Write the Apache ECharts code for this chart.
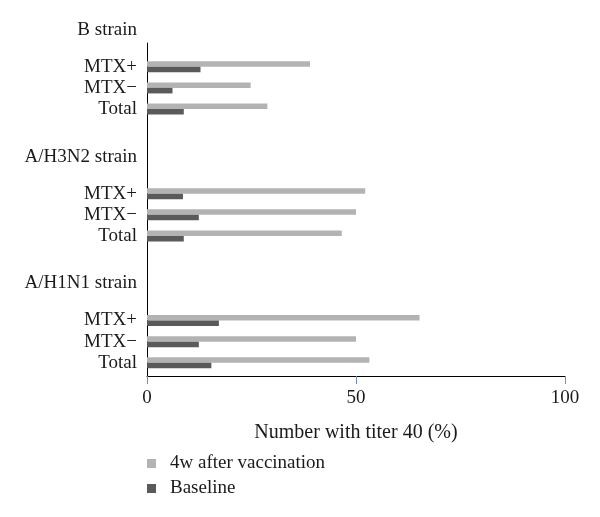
<!DOCTYPE html>
<html>
<head>
<meta charset="utf-8">
<script src="https://cdn.jsdelivr.net/npm/echarts@6/dist/echarts.min.js"></script>
<style>html,body{margin:0;padding:0;background:#fff}#c{width:600px;height:517px}</style>
</head>
<body>
<div id="c"></div>
<script>
// ---- data ----
const strains = ['B strain', 'A/H3N2 strain', 'A/H1N1 strain'];
const groups = ['MTX+', 'MTX\u2212', 'Total'];
const after4w = [39.0, 24.8, 28.8, 52.2, 50.0, 46.6, 65.2, 50.0, 53.2];
const baseline = [12.8, 6.1, 8.8, 8.6, 12.4, 8.8, 17.2, 12.4, 15.4];
const xTicks = [0, 50, 100];
const seriesNames = ['4w after vaccination', 'Baseline'];
const xTitle = 'Number with titer 40 (%)';

// ---- layout of category slots (fine slots; headers sit between groups) ----
const SLOTS = 63, GROUP_STEP = 24, ROW_STEP = 4, FIRST_ROW = 4, HEADER_OFFSET = -7;
const labels = new Array(SLOTS).fill('');
const cats = [];
for (let i = 0; i < SLOTS; i++) cats.push('s' + i);
const d1 = new Array(SLOTS).fill(null);
const d2 = new Array(SLOTS).fill(null);
strains.forEach((s, si) => {
  const base = si * GROUP_STEP + FIRST_ROW;
  const h = base + HEADER_OFFSET;
  if (h >= 0) labels[h] = s;
  groups.forEach((g, gi) => {
    const idx = base + gi * ROW_STEP;
    labels[idx] = g;
    d1[idx] = after4w[si * groups.length + gi];
    d2[idx] = baseline[si * groups.length + gi];
  });
});

const FONT = 'Liberation Serif';
const FS = 19;
const TXT = '#1a1a1a';
const chart = echarts.init(document.getElementById('c'), null, {renderer: 'canvas'});
chart.setOption({
  animation: false,
  backgroundColor: '#fff',
  grid: {left: 147, right: 35, top: 43, bottom: 141, containLabel: false},
  legend: {
    orient: 'vertical', left: 142, top: 449,
    icon: 'rect', itemWidth: 9, itemHeight: 9, itemGap: 6,
    data: seriesNames,
    textStyle: {fontFamily: FONT, fontSize: FS, color: TXT, padding: [0, 0, 0, 9]}
  },
  xAxis: {
    type: 'value', min: xTicks[0], max: xTicks[xTicks.length - 1], interval: xTicks[1] - xTicks[0],
    axisLine: {show: true, lineStyle: {color: '#000', width: 1}},
    axisTick: {show: true, length: 8, lineStyle: {color: '#6f8fb8'}},
    splitLine: {show: false},
    axisLabel: {fontFamily: FONT, fontSize: FS, color: TXT, margin: 13},
    name: xTitle, nameLocation: 'middle', nameGap: 47,
    nameTextStyle: {fontFamily: FONT, fontSize: 20, color: TXT}
  },
  yAxis: {
    type: 'category', data: cats, inverse: true,
    axisLine: {show: true, lineStyle: {color: '#000', width: 1}},
    axisTick: {show: false},
    axisLabel: {interval: 0, margin: 10, fontFamily: FONT, fontSize: FS, color: TXT,
      padding: [2, 0, 0, 0],
      formatter: (v, i) => labels[i]},
    name: strains[0], nameLocation: 'start', nameGap: 3,
    nameTextStyle: {fontFamily: FONT, fontSize: FS, color: TXT, align: 'right', padding: [0, 10, 0, 0]}
  },
  series: [
    {name: seriesNames[0], type: 'bar', data: d1, barWidth: 5.5, barGap: '0%',
     itemStyle: {color: '#b3b3b3'}},
    {name: seriesNames[1], type: 'bar', data: d2, barWidth: 5.5, barGap: '0%',
     itemStyle: {color: '#5a5a5a'}}
  ]
});
</script>
</body>
</html>
